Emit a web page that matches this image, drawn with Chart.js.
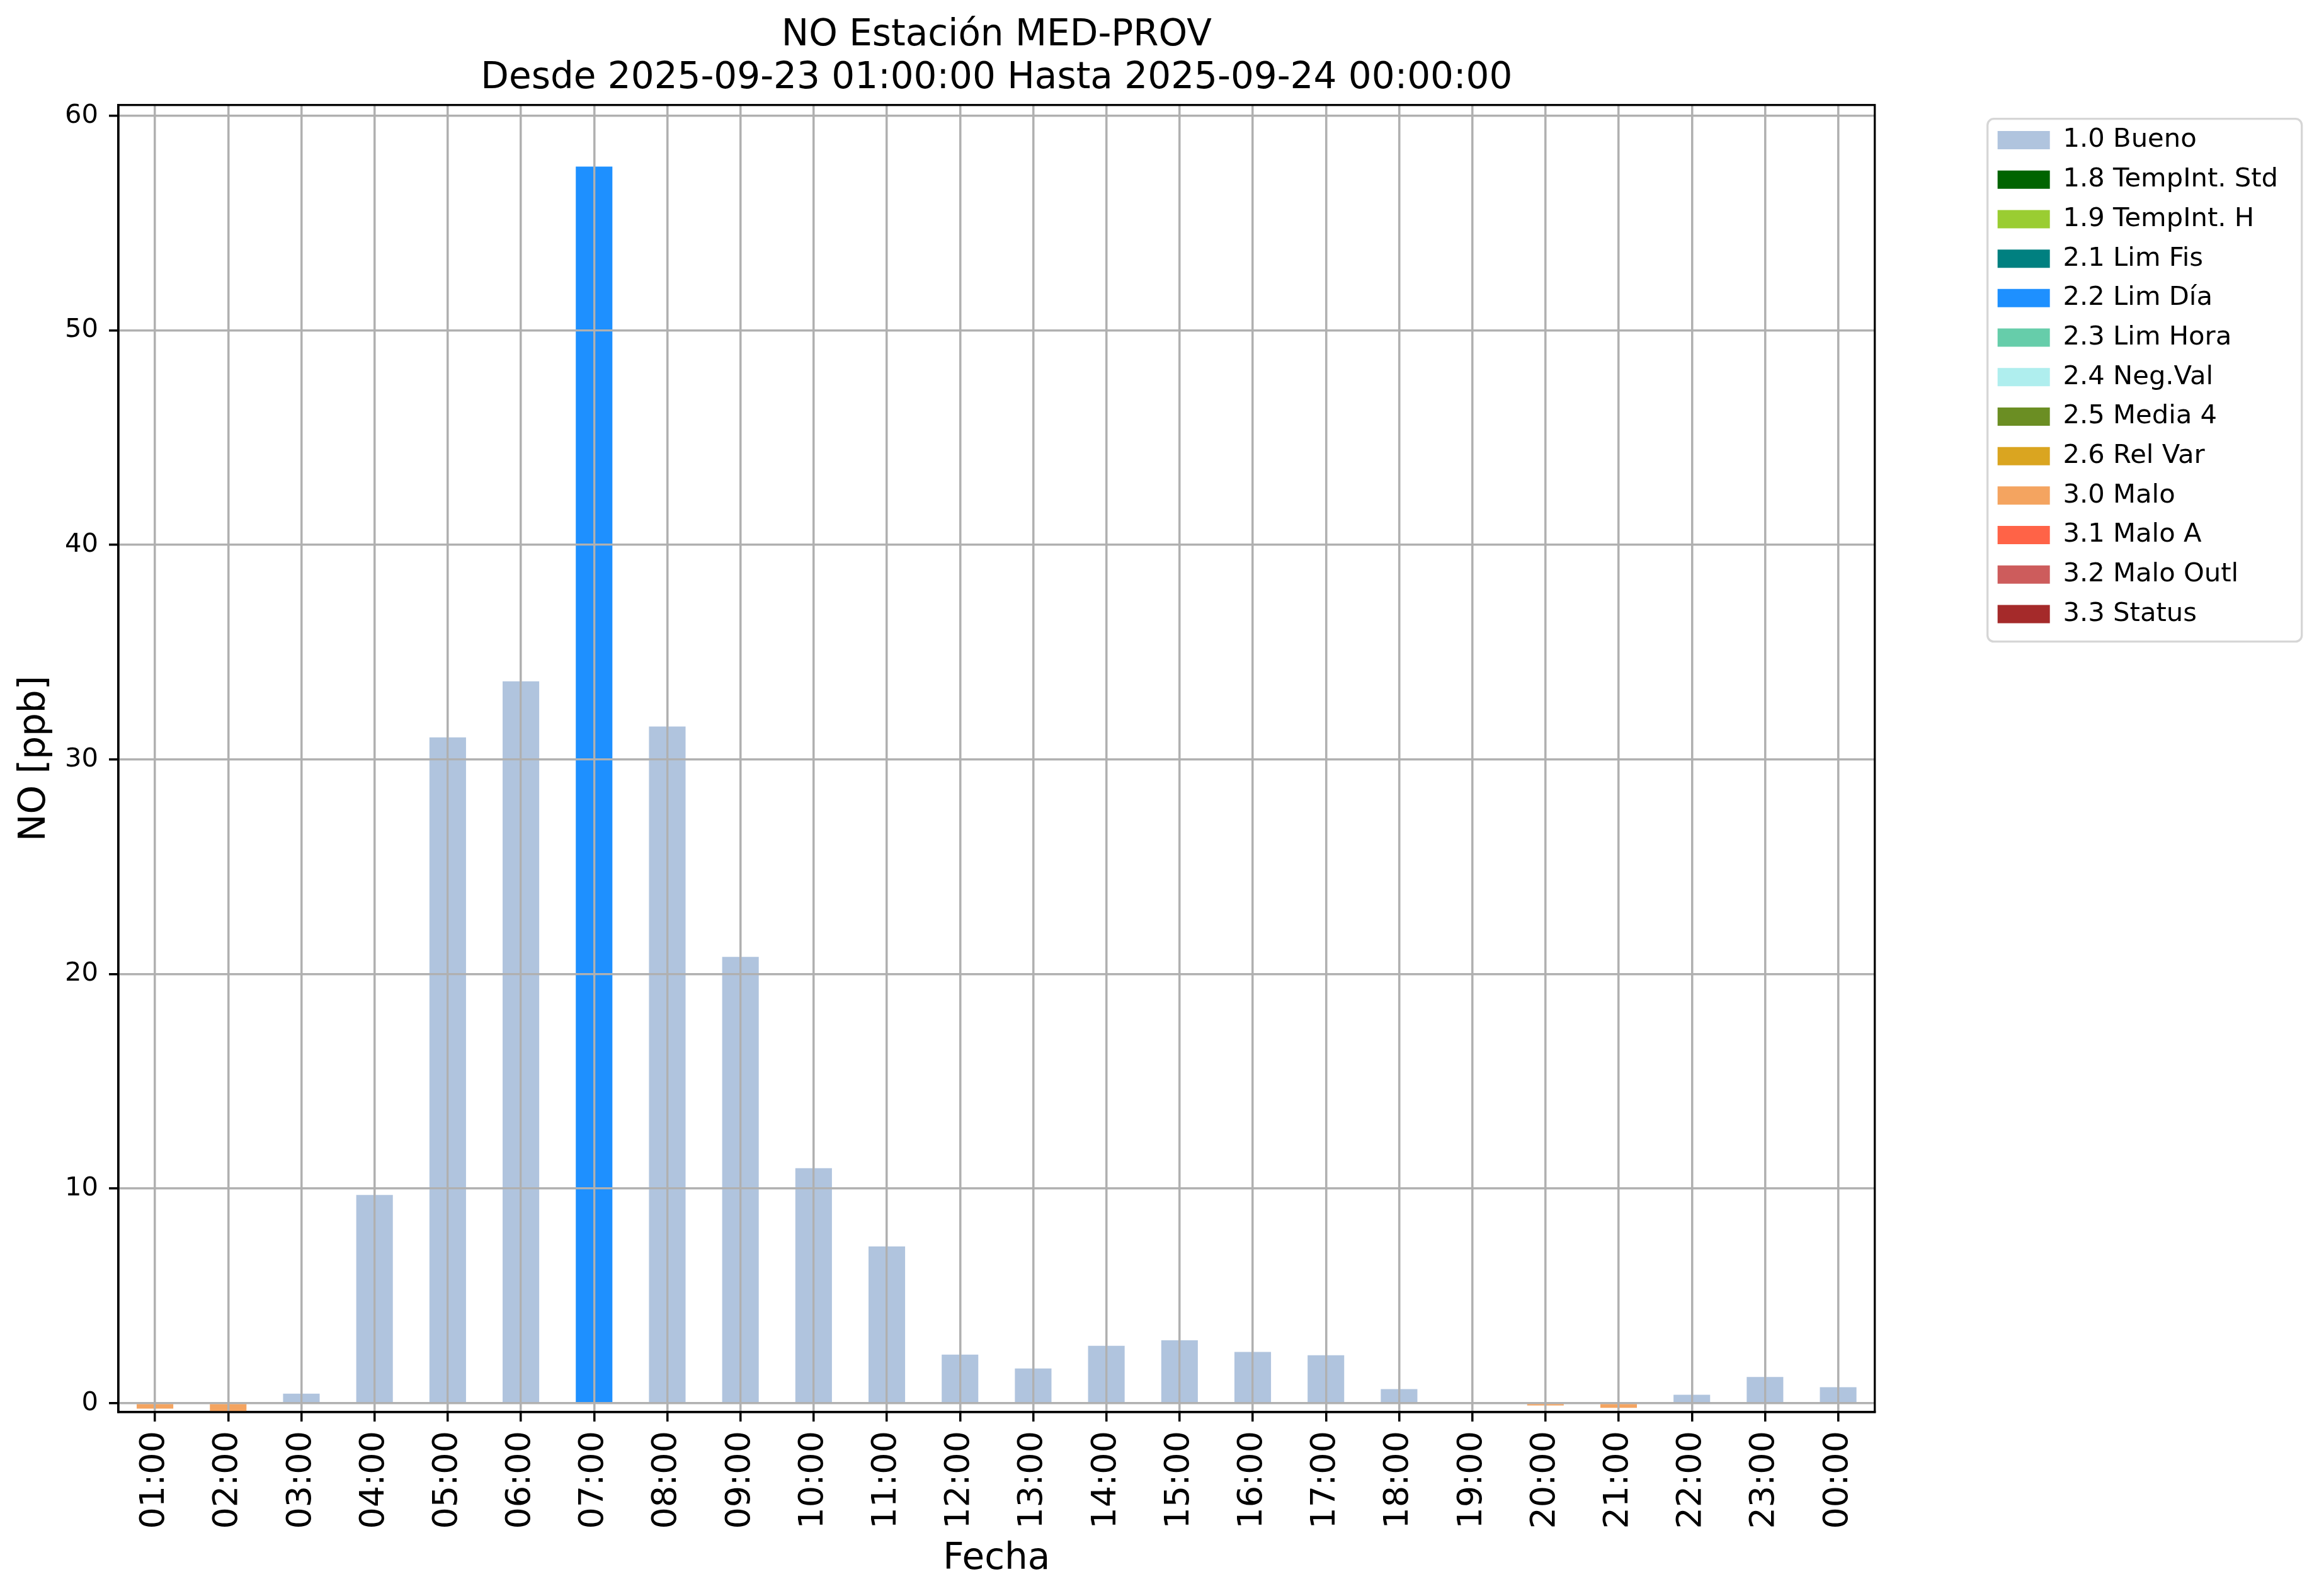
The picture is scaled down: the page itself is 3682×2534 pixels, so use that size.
<!DOCTYPE html>
<html lang="es">
<head>
<meta charset="utf-8">
<title>NO Estación MED-PROV</title>
<script src="https://cdn.jsdelivr.net/npm/chart.js@4.4.1/dist/chart.umd.min.js"></script>
<style>
    html, body { margin: 0; padding: 0; background: #fff; }
    canvas { display: block; }
</style>
</head>
<body>
<canvas id="grafico" width="3682" height="2534"></canvas>
<script>
// Horas del día (eje X)
const horas = ['01:00', '02:00', '03:00', '04:00', '05:00', '06:00', '07:00', '08:00',
    '09:00', '10:00', '11:00', '12:00', '13:00', '14:00', '15:00', '16:00',
    '17:00', '18:00', '19:00', '20:00', '21:00', '22:00', '23:00', '00:00'];

// Concentración de NO [ppb] por hora
const valoresNO = [-0.26, -0.38, 0.44, 9.70, 31.03, 33.64, 57.63, 31.53,
    20.80, 10.95, 7.30, 2.26, 1.61, 2.67, 2.93, 2.38,
    2.23, 0.65, null, -0.11, -0.22, 0.39, 1.22, 0.74];

// Flag de calidad de cada hora
const flagsNO = ['3.0', '3.0', '1.0', '1.0', '1.0', '1.0', '2.2', '1.0',
    '1.0', '1.0', '1.0', '1.0', '1.0', '1.0', '1.0', '1.0',
    '1.0', '1.0', '1.0', '3.0', '3.0', '1.0', '1.0', '1.0'];

// Categorías de la leyenda
const codigosFlag = ['1.0', '1.8', '1.9', '2.1', '2.2', '2.3', '2.4', '2.5', '2.6', '3.0', '3.1', '3.2', '3.3'];
const nombresFlag = ['1.0 Bueno', '1.8 TempInt. Std', '1.9 TempInt. H', '2.1 Lim Fis', '2.2 Lim Día',
    '2.3 Lim Hora', '2.4 Neg.Val', '2.5 Media 4', '2.6 Rel Var', '3.0 Malo', '3.1 Malo A',
    '3.2 Malo Outl', '3.3 Status'];
const coloresFlag = ['#B0C4DE', '#006400', '#9ACD32', '#008080', '#1E90FF', '#66CDAA', '#AFEEEE',
    '#6B8E23', '#DAA520', '#F4A460', '#FF6347', '#CD5C5C', '#A52A2A'];

// Eje Y
const ticksY = [0, 10, 20, 30, 40, 50, 60];
const limiteY = [-0.42, 60.5];

const tituloGrafico = ['NO Estación MED-PROV', 'Desde 2025-09-23 01:00:00 Hasta 2025-09-24 00:00:00'];

Chart.defaults.font.family = "'DejaVu Sans', sans-serif";
Chart.defaults.color = '#000';

// Un dataset por flag, con valor sólo en las horas de ese flag
function construirDatasets() {
    return codigosFlag.map((codigo, k) => ({
        label: nombresFlag[k],
        data: valoresNO.map((v, i) => flagsNO[i] === codigo ? v : null),
        backgroundColor: coloresFlag[k],
        borderWidth: 0,
        barPercentage: 0.5,
        categoryPercentage: 1,
        xAxisID: 'x',
        yAxisID: 'y',
        stack: 'flags'
    }));
}

// Fondo blanco, rejilla por encima de las barras, marco del área y de la leyenda
const estiloMatplotlib = {
    id: 'estiloMatplotlib',
    beforeDraw(chart) {
        const ctx = chart.ctx;
        const area = chart.chartArea;
        ctx.save();
        ctx.fillStyle = '#fff';
        ctx.fillRect(0, 0, chart.width, chart.height);
        // marco de la leyenda
        const x = area.right + 179, y = area.top + 22, w = 499, h = 830, r = 10;
        ctx.beginPath();
        ctx.roundRect(x, y, w, h, r);
        ctx.fillStyle = '#fff';
        ctx.fill();
        ctx.lineWidth = 3.3;
        ctx.strokeStyle = '#d6d6d6';
        ctx.stroke();
        ctx.restore();
    },
    afterDatasetsDraw(chart) {
        chart.scales.x.drawGrid(chart.chartArea);
        chart.scales.y.drawGrid(chart.chartArea);
    },
    afterDraw(chart) {
        const ctx = chart.ctx;
        const area = chart.chartArea;
        ctx.save();
        ctx.lineWidth = 3.3;
        ctx.strokeStyle = '#000';
        ctx.strokeRect(area.left, area.top, area.right - area.left, area.bottom - area.top);
        ctx.restore();
    }
};

const ctx = document.getElementById('grafico').getContext('2d');
const grafico = new Chart(ctx, {
    type: 'bar',
    data: {
        labels: horas,
        datasets: construirDatasets()
    },
    options: {
        responsive: false,
        animation: false,
        layout: {
            padding: { top: 23, right: 55, bottom: 0, left: 0 }
        },
        plugins: {
            tooltip: { enabled: false },
            title: {
                display: true,
                text: tituloGrafico,
                fullSize: false,
                color: '#000',
                font: { size: 58, weight: 'normal', lineHeight: 1.17 },
                padding: { top: 0, bottom: 8 }
            },
            legend: {
                display: true,
                position: 'right',
                align: 'start',
                fullSize: false,
                title: {
                    display: true,
                    text: '',
                    font: { size: 14, lineHeight: 1 },
                    padding: 0
                },
                labels: {
                    boxWidth: 83,
                    boxHeight: 29,
                    padding: 21,
                    color: '#000',
                    font: { size: 41.7 }
                }
            }
        },
        scales: {
            x: {
                type: 'category',
                stacked: true,
                grid: {
                    offset: false,
                    color: '#b0b0b0',
                    lineWidth: 3.3,
                    tickColor: '#000',
                    tickWidth: 3.3,
                    tickLength: 15
                },
                border: { display: true, color: '#000', width: 3.3 },
                ticks: {
                    autoSkip: false,
                    minRotation: 90,
                    maxRotation: 90,
                    padding: 15,
                    color: '#000',
                    font: { size: 54 }
                },
                title: {
                    display: true,
                    text: 'Fecha',
                    color: '#000',
                    font: { size: 58, lineHeight: 1.2 },
                    padding: { top: 0, bottom: 23 }
                },
                afterFit(scale) { scale.height = 292; }
            },
            y: {
                type: 'linear',
                position: 'left',
                stacked: true,
                min: limiteY[0],
                max: limiteY[1],
                afterBuildTicks(scale) {
                    scale.ticks = ticksY.map(v => ({ value: v }));
                },
                grid: {
                    color: '#b0b0b0',
                    lineWidth: 3.3,
                    tickColor: '#000',
                    tickWidth: 3.3,
                    tickLength: 15
                },
                border: { display: true, color: '#000', width: 3.3 },
                ticks: {
                    padding: 17,
                    color: '#000',
                    font: { size: 41.7 }
                },
                title: {
                    display: true,
                    text: 'NO [ppb]',
                    color: '#000',
                    font: { size: 58, lineHeight: 1.2 },
                    padding: { top: 21, bottom: 0 }
                },
                afterFit(scale) { scale.width = 188; }
            },
            // separación entre el área del gráfico y la leyenda
            hueco: {
                type: 'linear',
                position: 'right',
                display: true,
                grid: { display: false, drawTicks: false },
                border: { display: false },
                ticks: { display: false },
                afterFit(scale) { scale.width = 174; }
            }
        }
    },
    plugins: [estiloMatplotlib]
});
</script>
</body>
</html>
